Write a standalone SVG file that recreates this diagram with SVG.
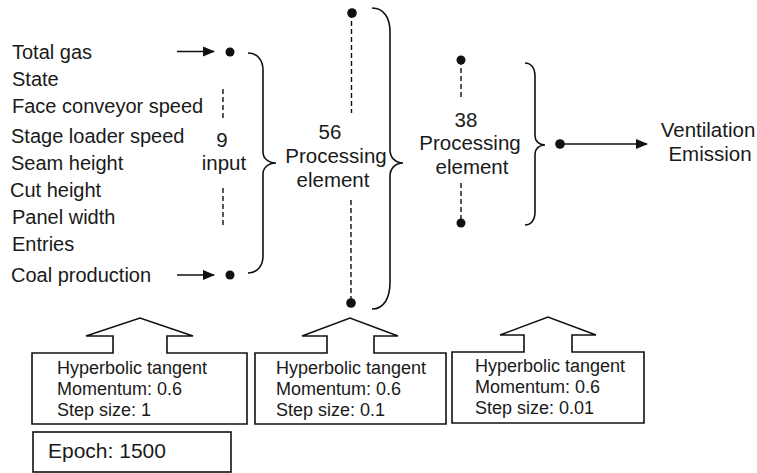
<svg xmlns="http://www.w3.org/2000/svg" width="757" height="473" viewBox="0 0 757 473">
<defs>
<marker id="ah" viewBox="0 0 12 12" refX="11" refY="6" markerWidth="12" markerHeight="12" markerUnits="userSpaceOnUse" orient="auto">
<path d="M0,1 L12,6 L0,11 Z" fill="#111"/>
</marker>
<style>
text{font-family:"Liberation Sans",Arial,sans-serif;fill:#1a1a1a}
.in{font-size:20px}
.lb{font-size:20.5px;text-anchor:middle}
.bx{font-size:18px}
.ln{fill:none;stroke:#111;stroke-width:1.6}
.ds{fill:none;stroke:#111;stroke-width:1.4;stroke-dasharray:5 3}
.dot{fill:#111}
.box{fill:#fff;stroke:#111;stroke-width:1.6}
</style>
</defs>
<rect width="757" height="473" fill="#fff"/>

<g id="inputs">
<text class="in" x="12" y="59">Total gas</text>
<text class="in" x="12" y="86">State</text>
<text class="in" x="12" y="113">Face conveyor speed</text>
<text class="in" x="11" y="143">Stage loader speed</text>
<text class="in" x="11" y="170">Seam height</text>
<text class="in" x="10" y="197">Cut height</text>
<text class="in" x="12" y="224">Panel width</text>
<text class="in" x="12" y="251">Entries</text>
<text class="in" x="11" y="282">Coal production</text>
</g>

<g id="input-layer">
<circle class="dot" cx="230" cy="52" r="4.5"/>
<circle class="dot" cx="230" cy="275" r="4.5"/>
<line class="ds" x1="223" y1="89" x2="223" y2="120"/>
<line class="ds" x1="223" y1="188" x2="223" y2="228"/>
<text class="lb" x="222" y="147">9</text>
<text class="lb" x="224" y="170">input</text>
<path class="ln" d="M248,53 C257,53 263,60 263,70 L263,152 C263,158 268,163 276,163 C268,163 263,168 263,174 L263,256 C263,266 257,273 248,273"/>
</g>

<g id="hidden1">
<circle class="dot" cx="352" cy="13" r="4.8"/>
<circle class="dot" cx="351" cy="303" r="4.8"/>
<line class="ds" x1="351.5" y1="13" x2="351.5" y2="113"/>
<line class="ds" x1="351" y1="200" x2="351" y2="303"/>
<text class="lb" x="330" y="139">56</text>
<text class="lb" x="336" y="163">Processing</text>
<text class="lb" x="333" y="187">element</text>
<path class="ln" d="M372,8 C384,8 390,18 390,32 L390,150 C390,157 395,163 403,163 C395,163 390,169 390,176 L390,282 C390,298 384,309 372,309"/>
</g>

<g id="hidden2">
<circle class="dot" cx="461" cy="60" r="4.5"/>
<circle class="dot" cx="461" cy="223" r="4.5"/>
<line class="ds" x1="461" y1="60" x2="461" y2="100"/>
<line class="ds" x1="461" y1="183" x2="461" y2="223"/>
<text class="lb" x="466" y="127">38</text>
<text class="lb" x="470" y="150">Processing</text>
<text class="lb" x="472" y="174">element</text>
<path class="ln" d="M525,63 C531,63 535,68 535,76 L535,136 C535,141 539,145 545,145 C539,145 535,149 535,154 L535,212 C535,220 531,225 525,225"/>
</g>

<g id="output">
<circle class="dot" cx="560" cy="144" r="4.8"/>
<text class="lb" x="708" y="137">Ventilation</text>
<text class="lb" x="710" y="161">Emission</text>
</g>

<g id="connectors">
<line class="ln" x1="177" y1="51.5" x2="214" y2="51.5" marker-end="url(#ah)"/>
<line class="ln" x1="177" y1="275" x2="214" y2="275" marker-end="url(#ah)"/>
<line class="ln" x1="560" y1="144" x2="647" y2="144" marker-end="url(#ah)"/>
</g>

<g id="box1">
<path class="box" d="M32,353 L113,353 L113,336 L86,336 L140,318 L193,336 L167,336 L167,353 L247,353 L247,424 L32,424 Z"/>
<text class="bx" x="57" y="374">Hyperbolic tangent</text>
<text class="bx" x="57" y="395">Momentum: 0.6</text>
<text class="bx" x="57" y="416">Step size: 1</text>
</g>

<g id="box2">
<path class="box" d="M255,353 L327,353 L327,336 L302,336 L350,318 L398,336 L374,336 L374,353 L446,353 L446,424 L255,424 Z"/>
<text class="bx" x="276" y="374">Hyperbolic tangent</text>
<text class="bx" x="276" y="395">Momentum: 0.6</text>
<text class="bx" x="276" y="416">Step size: 0.1</text>
</g>

<g id="box3">
<path class="box" d="M452,352 L524,352 L524,335 L500,335 L548,317 L596,335 L572,335 L572,352 L644,352 L644,423 L452,423 Z"/>
<text class="bx" x="475" y="372">Hyperbolic tangent</text>
<text class="bx" x="475" y="393">Momentum: 0.6</text>
<text class="bx" x="475" y="414">Step size: 0.01</text>
</g>

<g id="epoch">
<rect class="box" x="33" y="432" width="198" height="40"/>
<text x="48" y="458" style="font-size:21px">Epoch: 1500</text>
</g>
</svg>
